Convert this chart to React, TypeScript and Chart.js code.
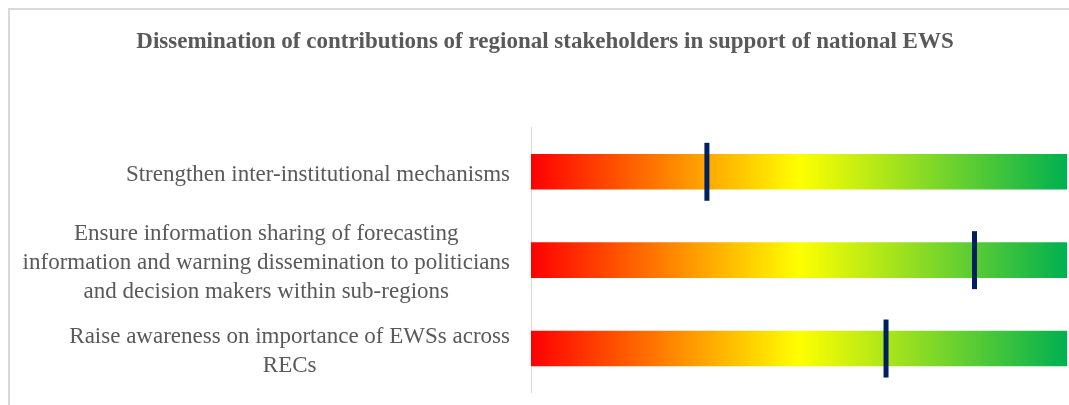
import React, { useEffect, useRef } from "react";
import { Chart, registerables } from "chart.js";

Chart.register(...registerables);

const chartTitle = "Dissemination of contributions of regional stakeholders in support of national EWS";

const categories: string[][] = [
  ["Strengthen inter-institutional mechanisms"],
  [
    "Ensure information sharing of forecasting",
    "information and warning dissemination to politicians",
    "and decision makers within sub-regions",
  ],
  ["Raise awareness on importance of EWSs across", "RECs"],
];

const scaleMin = 0;
const scaleMax = 100;
const backgroundBar = [100, 100, 100];
const scores = [32.8, 82.7, 66.2];

const gradientStops: [number, string][] = [
  [0, "#FF0000"],
  [0.5, "#FFFF00"],
  [1, "#00B050"],
];

const textColor = "#595959";
const markerColor = "#002060";

const labelPlugin = {
  id: "centeredYLabels",
  afterDraw(chart: any) {
    const y = chart.scales.y;
    const ctx = chart.ctx;
    ctx.save();
    ctx.font = '23px "Liberation Serif", "Times New Roman", serif';
    ctx.fillStyle = textColor;
    ctx.textAlign = "center";
    ctx.textBaseline = "alphabetic";
    const lineH = 29.3;
    categories.forEach((lines, i) => {
      const widths = lines.map((l) => ctx.measureText(l).width);
      const blockW = Math.max(...widths);
      const cx = y.right - 21 - blockW / 2;
      const cy = y.getPixelForValue(i);
      const n = lines.length;
      lines.forEach((l, j) => {
        const by = cy + 9 + (j - (n - 1) / 2) * lineH;
        ctx.fillText(l, cx, by);
      });
    });
    ctx.restore();
  },
};

export default function App() {
  const ref = useRef<HTMLCanvasElement | null>(null);

  useEffect(() => {
    document.body.style.margin = "8px 0 0 8px";
    if (!ref.current) return;
    const chart = new Chart(ref.current, {
      type: "bar",
      data: {
        labels: categories,
        datasets: [
          {
            type: "line",
            indexAxis: "y",
            data: scores,
            showLine: false,
            pointStyle: "line",
            pointRadius: 29,
            pointHoverRadius: 29,
            pointRotation: 90,
            pointBorderWidth: 5,
            pointBorderColor: markerColor,
            pointBackgroundColor: markerColor,
            order: 0,
            clip: false,
          } as any,
          {
            type: "bar",
            data: backgroundBar,
            barThickness: 35,
            borderWidth: 0,
            order: 1,
            backgroundColor: (c: any) => {
              const area = c.chart.chartArea;
              if (!area) return "#FF0000";
              const g = c.chart.ctx.createLinearGradient(area.left, 0, area.right, 0);
              gradientStops.forEach(([o, col]) => g.addColorStop(o, col));
              return g;
            },
          } as any,
        ],
      },
      options: {
        indexAxis: "y",
        responsive: false,
        animation: false,
        events: [],
        layout: { autoPadding: false, padding: { left: 12.7, right: 12.7, top: 0, bottom: 17.3 } },
        scales: {
          x: {
            display: false,
            min: scaleMin,
            max: scaleMax,
          },
          y: {
            type: "category",
            offset: true,
            grid: { display: false },
            border: { display: true, color: "#D9D9D9", width: 1 },
            ticks: { display: false },
            afterFit: (s: any) => {
              s.width = 508.3;
            },
          },
        },
        plugins: {
          legend: { display: false },
          tooltip: { enabled: false },
          title: {
            display: true,
            text: chartTitle,
            color: textColor,
            font: { family: '"Liberation Serif", "Times New Roman", serif', size: 23, weight: "bold" },
            padding: { top: 18.4, bottom: 71.6 },
          },
        },
      },
      plugins: [labelPlugin],
    });
    return () => chart.destroy();
  }, []);

  return (
    <div style={{ width: 1061, height: 397, overflow: "hidden" }}>
      <div style={{ width: 1070, height: 400, border: "2px solid #D9D9D9", background: "#FFFFFF" }}>
        <canvas ref={ref} width={1070} height={400} style={{ display: "block" }} />
      </div>
    </div>
  );
}
